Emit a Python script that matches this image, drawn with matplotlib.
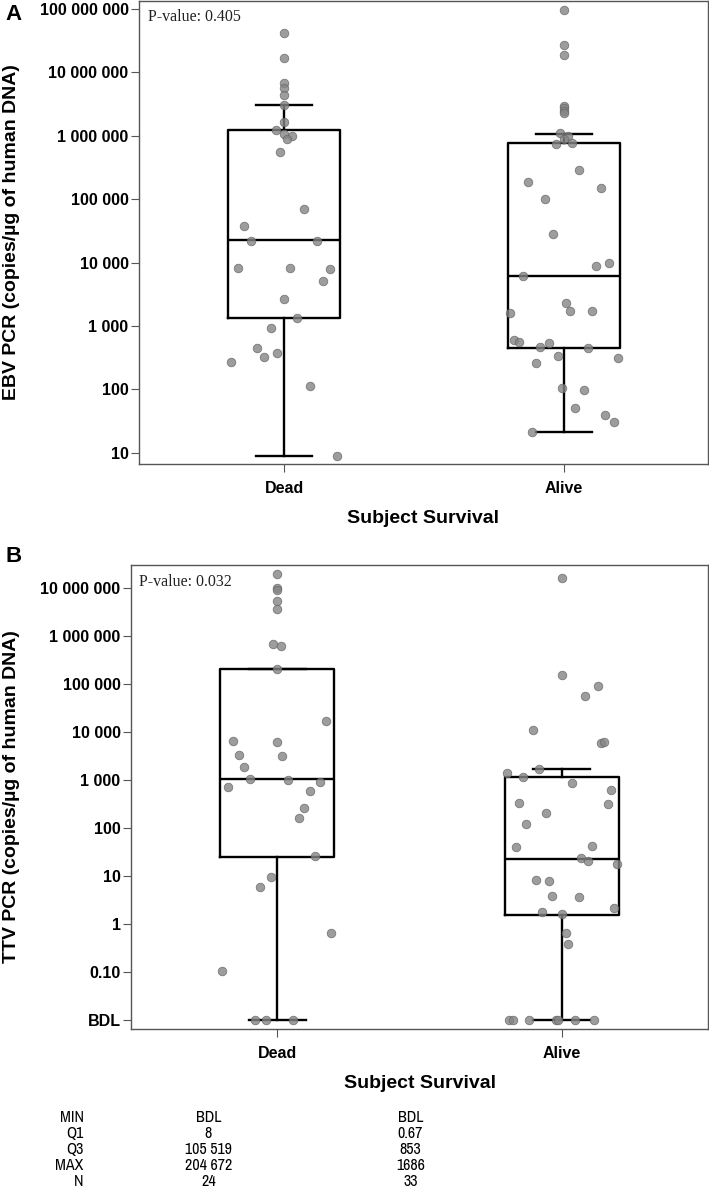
import numpy as np
import matplotlib
matplotlib.use('Agg')
import matplotlib.pyplot as plt
from matplotlib import font_manager
from matplotlib.ticker import FixedLocator, FixedFormatter, NullLocator

# Fonts
fonts = font_manager.fontManager.ttflist
installed = {f.name for f in fonts}
SANS = 'Liberation Sans' if 'Liberation Sans' in installed else 'DejaVu Sans'
SERIF = 'Liberation Serif' if 'Liberation Serif' in installed else 'DejaVu Serif'
# narrow face for the summary table, if one is around
NARROW, NARROW_STRETCH = SANS, 'normal'
for f in fonts:
    if 'narrow' in f.name.lower() or 'condensed' in f.name.lower():
        NARROW, NARROW_STRETCH = f.name, 'normal'
        break
else:
    for f in fonts:
        if f.stretch in ('condensed', 'semi-condensed') and f.name in (SANS, 'DejaVu Sans'):
            NARROW, NARROW_STRETCH = f.name, f.stretch
            break
plt.rcParams['font.family'] = [SANS, 'DejaVu Sans']

categories = ['Dead', 'Alive']
BDL = 0.01  # below detection limit, drawn one decade under 0.1

# ---- Panel A: EBV PCR ----
ebv_dead = [4.1e7, 1.7e7, 6.8e6, 5.6e6, 4.4e6, 3.1e6, 1.66e6, 1.25e6, 1.07e6, 1.0e6,
            8.8e5, 5.6e5, 6.9e4, 3.8e4, 2.2e4, 2.2e4, 8300, 8100, 7800, 5200,
            2700, 1320, 940, 445, 370, 325, 270, 112, 9]
ebv_dead_jit = [0, 0, 0, 0, 0, 0, 0, -0.029, 0, 0.029,
                0.012, -0.015, 0.07, -0.143, -0.119, 0.117, -0.165, 0.021, 0.164, 0.140,
                0, 0.045, -0.048, -0.095, -0.025, -0.071, -0.189, 0.094, 0.188]
ebv_alive = [9.5e7, 2.7e7, 1.9e7, 2.9e6, 2.7e6, 2.45e6, 2.26e6, 1.1e6, 9.8e5, 8.8e5,
             7.4e5, 7.6e5, 2.9e5, 1.86e5, 1.48e5, 1.0e5, 2.8e4, 8900, 9800, 6200,
             2300, 1730, 1740, 1600, 595, 550, 460, 535, 450, 265,
             340, 315, 107, 98, 50, 40, 31, 21.5]
ebv_alive_jit = [0, 0, 0, 0, 0, 0, 0, -0.014, 0.014, 0,
                 -0.029, 0.029, 0.054, -0.130, 0.132, -0.068, -0.038, 0.115, 0.162, -0.148,
                 0.008, 0.023, 0.101, -0.194, -0.177, -0.161, -0.085, -0.054, 0.085, -0.099,
                 -0.023, 0.194, -0.007, 0.070, 0.039, 0.146, 0.177, -0.115]
# box: whislo, q1, med, q3, whishi
ebv_box_dead = [9, 1340, 23000, 1.24e6, 3.1e6]
ebv_box_alive = [21, 450, 6200, 7.8e5, 1.07e6]
ebv_pvalue = '0.405'
ebv_ticks = [10, 100, 1000, 1e4, 1e5, 1e6, 1e7, 1e8]
ebv_ticklabels = ['10', '100', '1 000', '10 000', '100 000', '1 000 000',
                  '10 000 000', '100 000 000']

# ---- Panel B: TTV PCR ----
ttv_dead = [2.0e7, 1.0e7, 9.2e6, 5.4e6, 3.6e6, 6.8e5, 6.1e5, 2.1e5, 1.66e4, 6500,
            6200, 3300, 3100, 1900, 1050, 1000, 890, 710, 590, 260,
            164, 26, 9.5, 5.8, 0.66, 0.107, BDL, BDL, BDL]
ttv_dead_jit = [0, 0, 0, 0, 0, -0.015, 0.013, 0, 0.171, -0.155,
                0, -0.135, 0.018, -0.116, -0.097, 0.036, 0.151, -0.174, 0.114, 0.094,
                0.075, 0.131, -0.021, -0.060, 0.190, -0.193, -0.077, -0.040, 0.056]
ttv_alive = [1.6e7, 1.55e5, 9.1e4, 5.5e4, 1.1e4, 5900, 6300, 1400, 1700, 1150,
             850, 630, 325, 322, 205, 121, 41, 41.5, 24, 20.5,
             18, 8.3, 8.0, 3.8, 3.6, 1.8, 1.6, 2.15, 0.66, 0.38,
             BDL, BDL, BDL, BDL, BDL, BDL, BDL]
ttv_alive_jit = [0, 0, 0.127, 0.081, -0.102, 0.137, 0.150, -0.193, -0.080, -0.137,
                 0.035, 0.174, -0.149, 0.161, -0.056, -0.125, -0.160, 0.105, 0.069, 0.093,
                 0.195, -0.090, -0.045, -0.034, 0.059, -0.068, 0, 0.184, 0.014, 0.023,
                 -0.185, -0.173, -0.114, -0.022, -0.013, 0.047, 0.115]
ttv_box_dead = [BDL, 25, 1050, 2.05e5, 2.05e5]
ttv_box_alive = [BDL, 1.55, 23, 1150, 1700]
ttv_pvalue = '0.032'
ttv_ticks = [BDL, 0.1, 1, 10, 100, 1000, 1e4, 1e5, 1e6, 1e7]
ttv_ticklabels = ['BDL', '0.10', '1', '10', '100', '1 000', '10 000', '100 000',
                  '1 000 000', '10 000 000']

# summary table under panel B
table_rows = ['MIN', 'Q1', 'Q3', 'MAX', 'N']
table_dead = ['BDL', '8', '105 519', '204 672', '24']
table_alive = ['BDL', '0.67', '853', '1686', '33']

SPINE = '#555555'


def make_stats(box):
    return {'whislo': box[0], 'q1': box[1], 'med': box[2], 'q3': box[3], 'whishi': box[4]}


def draw_panel(ax, dead, dead_jit, alive, alive_jit, box_dead, box_alive,
               ticks, ticklabels, ylim, xlim, ylabel, pvalue, ylab_x, ptext_xy):
    ax.set_yscale('log')
    stats = [make_stats(box_dead), make_stats(box_alive)]
    line = dict(color='black', linewidth=1.7)
    ax.bxp(stats, positions=[0, 1], widths=0.4, showfliers=False,
           boxprops=line, whiskerprops=line, capprops=line, medianprops=line,
           capwidths=0.2)
    for pos, vals, jit in [(0, dead, dead_jit), (1, alive, alive_jit)]:
        xs = pos + np.array(jit)
        ax.scatter(xs, vals, s=38, color='#858585', edgecolors='#666666',
                   linewidths=0.6, alpha=0.8, zorder=5, clip_on=False)
    ax.set_xlim(*xlim)
    ax.set_ylim(*ylim)
    ax.yaxis.set_major_locator(FixedLocator(ticks))
    ax.yaxis.set_major_formatter(FixedFormatter(ticklabels))
    ax.yaxis.set_minor_locator(NullLocator())
    ax.set_xticks([0, 1])
    ax.set_xticklabels(categories)
    for lab in ax.get_xticklabels() + ax.get_yticklabels():
        lab.set_fontweight('bold')
        lab.set_fontsize(11.5)
    ax.tick_params(axis='both', direction='out', length=5.5, width=0.8,
                   color=SPINE, pad=2)
    ax.tick_params(axis='x', pad=7)
    for sp in ax.spines.values():
        sp.set_color(SPINE)
        sp.set_linewidth(1.0)
    ax.set_ylabel(ylabel, fontsize=14, fontweight='bold')
    ax.yaxis.set_label_coords(ylab_x, 0.5)
    ax.set_xlabel('Subject Survival', fontsize=14, fontweight='bold')
    ax.xaxis.set_label_coords(0.5, -0.1)
    ax.text(ptext_xy[0], ptext_xy[1], 'P-value: ' + pvalue, transform=ax.transAxes,
            fontsize=11.5, family=SERIF, va='baseline', ha='left', color='#222222')


fig = plt.figure(figsize=(7.09, 11.91), dpi=100)

axA = fig.add_axes([0.196, 0.6104, 0.8025, 0.3888])
draw_panel(axA, ebv_dead, ebv_dead_jit, ebv_alive, ebv_alive_jit,
           ebv_box_dead, ebv_box_alive, ebv_ticks, ebv_ticklabels,
           (10 ** 0.823, 10 ** 8.126), (-0.518, 1.514),
           'EBV PCR (copies/µg of human DNA)', ebv_pvalue, -0.209, (0.016, 0.957))

axB = fig.add_axes([0.1848, 0.136, 0.8138, 0.3896])
draw_panel(axB, ttv_dead, ttv_dead_jit, ttv_alive, ttv_alive_jit,
           ttv_box_dead, ttv_box_alive, ttv_ticks, ttv_ticklabels,
           (10 ** -2.19, 10 ** 7.48), (-0.514, 1.514),
           'TTV PCR (copies/µg of human DNA)', ttv_pvalue, -0.192, (0.014, 0.955))

fig.text(0.019, 0.988, 'A', fontsize=16, fontweight='bold', va='center', ha='center')
fig.text(0.019, 0.533, 'B', fontsize=16, fontweight='bold', va='center', ha='center')

# summary table
for i, row in enumerate(table_rows):
    y = 1 - (1117 + 16 * i) / 1191
    kw = dict(family=NARROW, fontstretch=NARROW_STRETCH, fontsize=11.5, va='center')
    fig.text(0.118, y, row, ha='right', **kw)
    fig.text(0.294, y, table_dead[i], ha='center', **kw)
    fig.text(0.579, y, table_alive[i], ha='center', **kw)

fig.savefig('out.png', dpi=100)
